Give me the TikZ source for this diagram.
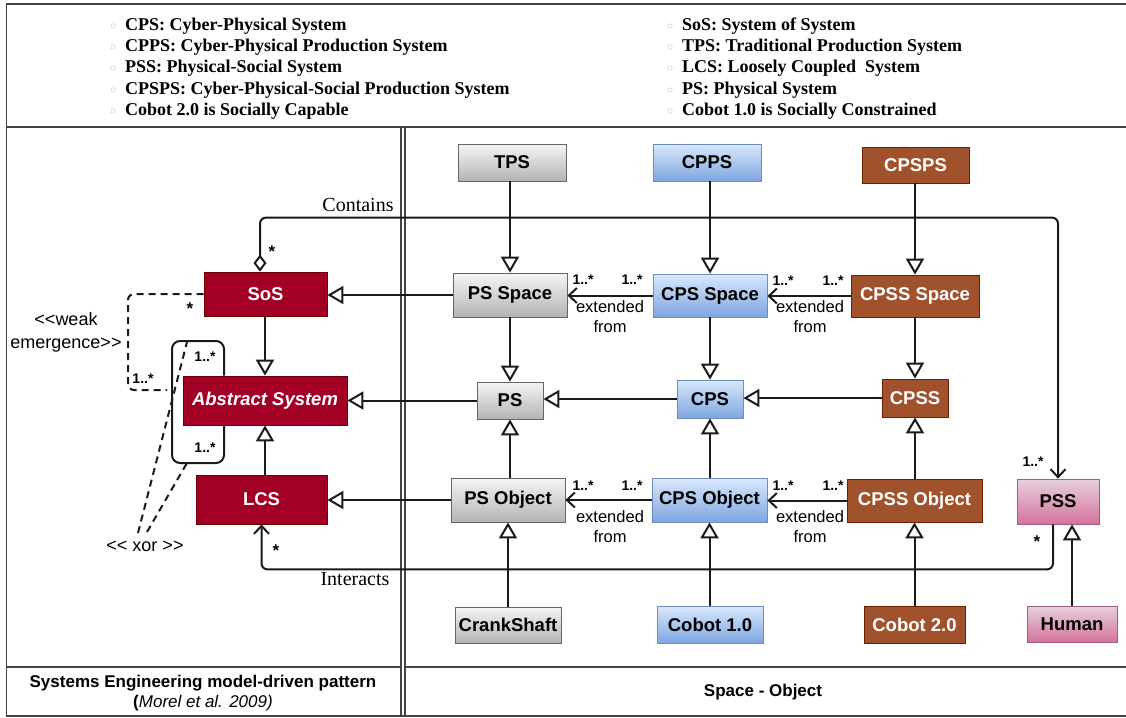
\documentclass[tikz,border=0pt]{standalone}
\usepackage{fontspec}
\setmainfont{Liberation Serif}
\setsansfont{Liberation Sans}
\usetikzlibrary{arrows.meta,calc}
\definecolor{grayT}{HTML}{F5F5F5}
\definecolor{grayB}{HTML}{B3B3B3}
\definecolor{grayD}{HTML}{666666}
\definecolor{blueT}{HTML}{DAE8FC}
\definecolor{blueB}{HTML}{7EA6E0}
\definecolor{blueD}{HTML}{6C8EBF}
\definecolor{pinkT}{HTML}{E6D0DE}
\definecolor{pinkB}{HTML}{D5739D}
\definecolor{pinkD}{HTML}{996185}
\definecolor{redF}{HTML}{A20025}
\definecolor{redD}{HTML}{6F0000}
\definecolor{brownF}{HTML}{A0522D}
\definecolor{brownD}{HTML}{6D1F00}
\definecolor{lineC}{HTML}{1A1A1A}
\definecolor{frameC}{HTML}{444444}
\begin{document}
\begin{tikzpicture}[x=1pt,y=-1pt,
  frame/.style={draw=frameC,line width=1.3pt},
  box/.style={draw,line width=0.8pt,inner sep=0pt,align=center,
    font=\sffamily\bfseries\fontsize{18.5}{22}\selectfont},
  grayb/.style={box,draw=grayD,top color=grayT,bottom color=grayB,text=black},
  blueb/.style={box,draw=blueD,top color=blueT,bottom color=blueB,text=black},
  pinkb/.style={box,draw=pinkD,top color=pinkT,bottom color=pinkB,text=black},
  redb/.style={box,draw=redD,fill=redF,text=white},
  brownb/.style={box,draw=brownD,fill=brownF,text=white},
  conn/.style={draw=lineC,line width=2pt},
  gen/.style={conn,-{Triangle[fill=white,length=16pt,width=18pt]}},
  ext/.style={conn,-{Straight Barb[length=8pt,width=15pt]}},
  mult/.style={inner sep=0pt,font=\sffamily\bfseries\fontsize{14}{16}\selectfont},
  star/.style={inner sep=0pt,font=\sffamily\bfseries\fontsize{17}{18}\selectfont},
  extl/.style={inner sep=0pt,align=center,font=\sffamily\fontsize{16.5}{20}\selectfont},
  legend/.style={anchor=west,inner sep=0pt,font=\bfseries\fontsize{18}{21}\selectfont},
  bul/.style={circle,draw=gray!40,line width=0.5pt,minimum size=4.5pt,inner sep=0pt},
  serifl/.style={inner sep=0pt,font=\fontsize{20}{22}\selectfont},
  stereo/.style={inner sep=0pt,align=center,font=\sffamily\fontsize{18}{23}\selectfont}
]
\useasboundingbox (0,0) rectangle (1126,717);
\fill[white] (0,0) rectangle (1126,717);

% frames
\draw[frame] (1126,4) -- (6.5,4) -- (6.5,716) -- (1126,716);
\draw[frame] (6.5,127) -- (1126,127);
\draw[frame] (401,127) -- (401,716);
\draw[frame] (405,127) -- (405,716);
\draw[frame] (6.5,667) -- (401,667);
\draw[frame] (405,667) -- (1126,667);

% legend
\node[bul] (bl1) at (113,26) {};
\node[bul] (bl2) at (113,47) {};
\node[bul] (bl3) at (113,68) {};
\node[bul] (bl4) at (113,90) {};
\node[bul] (bl5) at (113,111) {};
\node[legend] (l1) at (125,26) {CPS: Cyber-Physical System};
\node[legend] (l2) at (125,47) {CPPS: Cyber-Physical Production System};
\node[legend] (l3) at (125,68) {PSS: Physical-Social System};
\node[legend] (l4) at (125,90) {CPSPS: Cyber-Physical-Social Production System};
\node[legend] (l5) at (125,111) {Cobot 2.0 is Socially Capable};
\node[bul] (br1) at (670,26) {};
\node[bul] (br2) at (670,47) {};
\node[bul] (br3) at (670,68) {};
\node[bul] (br4) at (670,90) {};
\node[bul] (br5) at (670,111) {};
\node[legend] (r1) at (682,26) {SoS: System of System};
\node[legend] (r2) at (682,47) {TPS: Traditional Production System};
\node[legend] (r3) at (682,68) {LCS: Loosely Coupled\ \ System};
\node[legend] (r4) at (682,90) {PS: Physical System};
\node[legend] (r5) at (682,111) {Cobot 1.0 is Socially Constrained};

% left nodes
\node[redb,minimum width=123pt,minimum height=44pt] (sos) at (265.5,294) {SoS};
\node[redb,minimum width=164pt,minimum height=49pt] (as) at (265,400.5) {\itshape Abstract System};
\node[redb,minimum width=131pt,minimum height=49pt] (lcs) at (261.5,499.5) {LCS};

% right nodes
\node[grayb,minimum width=108pt,minimum height=37pt] (tps) at (512,162.5) {TPS};
\node[blueb,minimum width=108pt,minimum height=37pt] (cpps) at (707,162.5) {CPPS};
\node[brownb,minimum width=107pt,minimum height=36pt] (cpsps) at (915.5,165) {CPSPS};
\node[grayb,minimum width=114pt,minimum height=44pt] (psspace) at (510,295) {PS Space};
\node[blueb,minimum width=114pt,minimum height=43pt] (cpsspace) at (710,295.5) {CPS Space};
\node[brownb,minimum width=128pt,minimum height=42pt] (cpssspace) at (915,296) {CPSS Space};
\node[grayb,minimum width=66pt,minimum height=37pt] (ps) at (510,400.5) {PS};
\node[blueb,minimum width=66pt,minimum height=38pt] (cps) at (710,399) {CPS};
\node[brownb,minimum width=66pt,minimum height=38pt] (cpss) at (915,398) {CPSS};
\node[grayb,minimum width=114pt,minimum height=44pt] (psobj) at (508,500) {PS Object};
\node[blueb,minimum width=115pt,minimum height=44pt] (cpsobj) at (709.5,500) {CPS Object};
\node[brownb,minimum width=135pt,minimum height=43pt] (cpssobj) at (914.5,500.5) {CPSS Object};
\node[pinkb,minimum width=82pt,minimum height=45pt] (pss) at (1058,501.5) {PSS};
\node[grayb,minimum width=106pt,minimum height=36pt] (crank) at (508,625) {CrankShaft};
\node[blueb,minimum width=106pt,minimum height=37pt] (cobot1) at (710,624.5) {Cobot 1.0};
\node[brownb,minimum width=101pt,minimum height=37pt] (cobot2) at (914.5,624.5) {Cobot 2.0};
\node[pinkb,minimum width=90pt,minimum height=36pt] (human) at (1072,624) {Human};

% generalizations
\draw[gen] (tps.south -| psspace) -- (psspace.north);
\draw[gen] (cpps.south -| cpsspace) -- (cpsspace.north);
\draw[gen] (cpsps.south -| cpssspace) -- (cpssspace.north);
\draw[gen] (psspace.west) -- (psspace.west -| sos.east);
\draw[gen] (ps.west) -- (ps.west -| as.east);
\draw[gen] (psobj.west) -- (psobj.west -| lcs.east);
\draw[gen] (sos.south -| as) -- (as.north);
\draw[gen] (lcs.north -| as) -- (as.south);
\draw[gen] (psspace.south) -- (ps.north);
\draw[gen] (psobj.north -| ps) -- (ps.south);
\draw[gen] (cpsspace.south -| cps) -- (cps.north);
\draw[gen] (cpsobj.north -| cps) -- (cps.south);
\draw[gen] (cpssspace.south -| cpss) -- (cpss.north);
\draw[gen] (cpssobj.north -| cpss) -- (cpss.south);
\draw[gen] (cps.west) -- (cps.west -| ps.east);
\draw[gen] (cpss.west) -- (cpss.west -| cps.east);
\draw[gen] (crank.north -| psobj) -- (psobj.south);
\draw[gen] (cobot1.north -| cpsobj) -- (cpsobj.south);
\draw[gen] (cobot2.north -| cpssobj) -- (cpssobj.south);
\draw[gen] (human.north) -- (human.north |- pss.south);

% extended from
\draw[ext] (cpsspace.west) -- (cpsspace.west -| psspace.east);
\draw[ext] (cpssspace.west) -- (cpssspace.west -| cpsspace.east);
\draw[ext] (cpsobj.west) -- (cpsobj.west -| psobj.east);
\draw[ext] (cpssobj.west) -- (cpssobj.west -| cpsobj.east);
\node[mult] (m1) at (583,280) {1..*};
\node[mult] (m2) at (632,280) {1..*};
\node[mult] (m3) at (783,281) {1..*};
\node[mult] (m4) at (833,281) {1..*};
\node[mult] (m5) at (583,486) {1..*};
\node[mult] (m6) at (632,486) {1..*};
\node[mult] (m7) at (783,486) {1..*};
\node[mult] (m8) at (833,486) {1..*};
\node[extl] (e1) at (610,317) {extended\\from};
\node[extl] (e2) at (810,317) {extended\\from};
\node[extl] (e3) at (610,527) {extended\\from};
\node[extl] (e4) at (810,527) {extended\\from};

% contains
\draw[conn,rounded corners=6pt,{Diamond[fill=white,length=17pt,width=13pt]}-{Straight Barb[length=8pt,width=15pt]}]
  ([xshift=-5.5pt]sos.north) -- ++(0,-54) -| (pss.north);
\node[serifl] (contains) at (358,205) {Contains};
\node[star] (s1) at (272,252) {*};
\node[mult] (m9) at (1033,462) {1..*};

% interacts
\draw[conn,rounded corners=6pt,-{Straight Barb[length=8pt,width=15pt]}]
  ([xshift=-5pt]pss.south) -- ++(0,45) -| (lcs.south);
\node[serifl] (interacts) at (355,579) {Interacts};
\node[star] (s2) at (276,551) {*};
\node[star] (s3) at (1037,542) {*};

% self loop on abstract system
\coordinate (lx) at (224,0);
\draw[conn,rounded corners=8pt] (as.north -| lx) |- (172,341) |- (224,463) -- (as.south -| lx);
\node[mult] (m10) at (205,357) {1..*};
\node[mult] (m11) at (205,448) {1..*};

% weak emergence
\coordinate (weEnd) at (167,390);
\draw[draw=lineC,line width=2pt,dash pattern=on 7pt off 5pt,rounded corners=6pt]
  (sos.west) -- (128,294) -- (128,390) -- (weEnd);
\node[star] (s4) at (190,309) {*};
\node[mult] (m12) at (143,379) {1..*};
\node[stereo] (weak) at (66,332) {<{}<weak\\emergence>{}>};

% xor
\coordinate (x1a) at (138,533);
\coordinate (x1b) at (187,342);
\coordinate (x2a) at (147,532);
\coordinate (x2b) at (187,463);
\draw[draw=lineC,line width=2pt,dash pattern=on 7pt off 5pt] (x1a) -- (x1b);
\draw[draw=lineC,line width=2pt,dash pattern=on 7pt off 5pt] (x2a) -- (x2b);
\node[stereo] (xor) at (145,546) {<{}< xor >{}>};

% bottom captions
\node[inner sep=0pt,align=center,font=\sffamily\fontsize{17}{20}\selectfont] (cap1) at (203,693)
  {\bfseries Systems Engineering model-driven pattern\\{\bfseries(}\itshape Morel et al. 2009)};
\node[inner sep=0pt,font=\sffamily\bfseries\fontsize{17}{20}\selectfont] (cap2) at (763,692) {Space - Object};
\end{tikzpicture}
\end{document}
